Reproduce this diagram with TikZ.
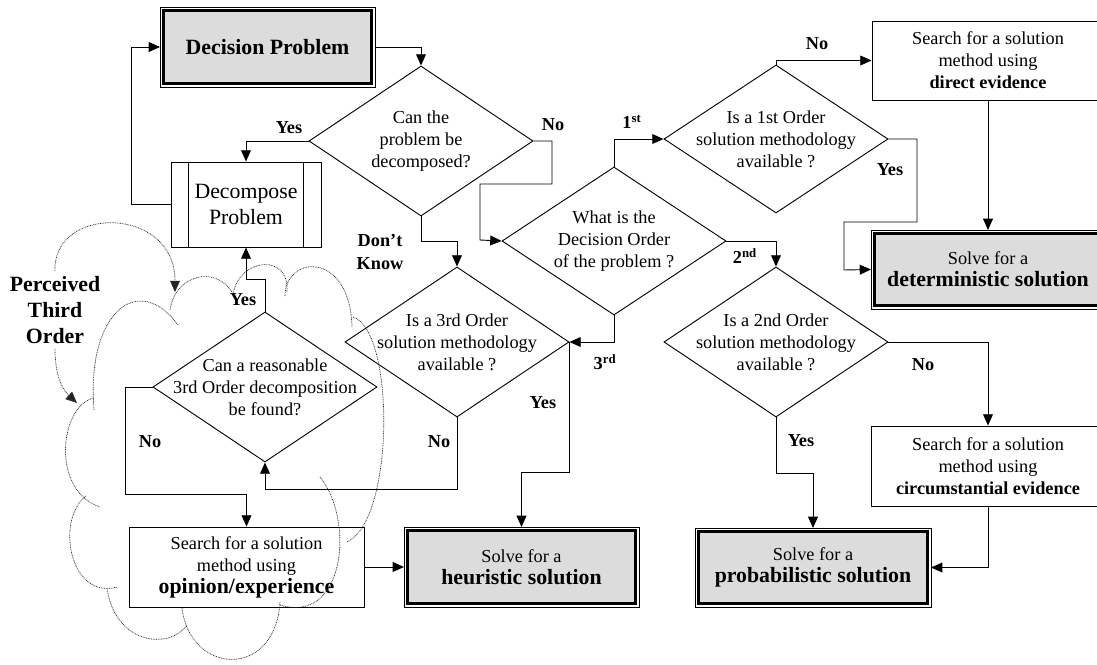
\documentclass[tikz,border=0pt]{standalone}
\usepackage{fontspec}
\setmainfont{Liberation Serif}
\usetikzlibrary{arrows.meta}
\usetikzlibrary{shapes.geometric}

\definecolor{boxgray}{HTML}{DCDCDC}
\newcommand\txtnorm{\fontsize{13}{15.7}\selectfont}
\newcommand\txtbig{\fontsize{15.5}{18.5}\selectfont}

\begin{document}
\begin{tikzpicture}[>={Triangle[length=8pt,width=7pt]}, x=0.025cm, y=-0.025cm,
    line width=0.65pt,
    goal/.style={draw, line width=2.3pt, fill=boxgray, outer sep=2.5pt,
        inner sep=0pt, align=center, font=\txtnorm},
    task/.style={draw, fill=white, inner sep=0pt, align=center, font=\txtnorm},
    decide/.style={diamond, draw, minimum width=5.6cm, minimum height=3.75cm, inner sep=0pt},
    qtext/.style={align=center, font=\txtnorm},
    lbl/.style={font=\txtnorm\bfseries},
    cloudline/.style={line width=0.5pt, dash pattern=on 0.6pt off 0.6pt, black!85}]
    \clip (0,0) rectangle (1097,664);

    % start and end states
    \node[goal, minimum width=5.2cm, minimum height=1.825cm, font=\txtbig\bfseries]
        (dp) at (267.5,47) {Decision Problem};
    \node[goal, minimum width=5.7cm, minimum height=1.825cm] (heur) at (521.5,567)
        {Solve for a\\{\txtbig\bfseries heuristic solution}};
    \node[goal, minimum width=5.725cm, minimum height=1.8cm] (prob) at (813,567.5)
        {Solve for a\\{\txtbig\bfseries probabilistic solution}};
    \node[goal, minimum width=5.675cm, minimum height=1.8cm] (det) at (988,269.5)
        {Solve for a\\{\txtbig\bfseries deterministic solution}};
    \foreach \g in {dp, heur, prob, det}
        \draw[line width=0.6pt] (\g.north west) rectangle (\g.south east);

    % search boxes
    \node[task, minimum width=5.8cm, minimum height=1.975cm] (direct) at (988,60.5)
        {Search for a solution\\method using\\\textbf{direct evidence}};
    \node[task, minimum width=5.85cm, minimum height=2cm] (circ) at (988,466)
        {Search for a solution\\method using\\\textbf{circumstantial evidence}};
    \node[task, minimum width=5.875cm, minimum height=2cm] (opinion) at (246.5,567)
        {Search for a solution\\method using\\{\txtbig\bfseries opinion/experience}};
    \node[task, minimum width=3.75cm, minimum height=2.125cm, font=\txtbig]
        (decomp) at (246,204.5) {Decompose\\Problem};
    \draw ([xshift=0.44cm]decomp.north west) -- ([xshift=0.44cm]decomp.south west);
    \draw ([xshift=-0.44cm]decomp.north east) -- ([xshift=-0.44cm]decomp.south east);

    % decisions
    \node[decide] (canSplit) at (421,141) {};
    \node[qtext] (canSplitQ) at (canSplit) {Can the\\problem be\\decomposed?};
    \node[decide, minimum height=3.7cm] (order) at (614,241) {};
    \node[qtext] (orderQ) at (order) {What is the\\Decision Order\\of the problem ?};
    \node[decide, minimum height=3.7cm] (first) at (776,139) {};
    \node[qtext] (firstQ) at (first) {Is a 1st Order\\solution methodology\\available ?};
    \node[decide] (second) at (776,342) {};
    \node[qtext] (secondQ) at (second) {Is a 2nd Order\\solution methodology\\available ?};
    \node[decide] (third) at (457,342) {};
    \node[qtext] (thirdQ) at (third) {Is a 3rd Order\\solution methodology\\available ?};
    \node[decide] (reason) at (265,387) {};
    \node[qtext] (reasonQ) at (reason) {Can a reasonable\\3rd Order decomposition\\be found?};

    % connectors
    \draw[->] (dp.east) -| (canSplit.north);
    \draw[->] (canSplit.west) -| (decomp.north);
    \draw[->] (decomp.west) -- ++(-39,0) |- (dp.west);
    \draw[->] (canSplit.east) -| (552,184) -| (480,240) -- (order.west);
    \draw[->] (canSplit.south) -- ++(0,25) -| (third.north);
    \draw[->] (order.north) |- (first.west);
    \draw[->] (first.north) |- (direct.west);
    \draw[->] (direct.south) -- (det.north);
    \draw[->] (first.east) -| (917,222) -| (844,270) -- (det.west);
    \draw[->] (order.east) -| (second.north);
    \draw[->] (second.east) -| (circ.north);
    \draw[->] (circ.south) |- (prob.east);
    \draw[->] (second.south) -- ++(0,56) -| (prob.north);
    \draw[->] (order.south) |- (third.east);
    \draw[->] (third.east) -- ++(0,130) -| (heur.north);
    \draw[->] (third.south) -- ++(0,72) -| (reason.south);
    \draw[->] (reason.north) -- ++(0,-32) -| (decomp.south);
    \draw[->] (reason.west) -| (125,494) -| (opinion.north);
    \draw[->] (opinion.east) -- (heur.west);

    % branch labels
    \node[lbl] (yesSplit) at (289,128) {Yes};
    \node[lbl] (noSplit) at (553,125) {No};
    \node[lbl, align=center] (dontKnow) at (380,252) {Don’t\\Know};
    \node[lbl] (ordFirst) at (632,122) {1\textsuperscript{st}};
    \node[lbl] (ordSecond) at (745,256) {2\textsuperscript{nd}};
    \node[lbl] (ordThird) at (605,362) {3\textsuperscript{rd}};
    \node[lbl] (noFirst) at (817,44) {No};
    \node[lbl] (yesFirst) at (890,170) {Yes};
    \node[lbl] (noSecond) at (923,365) {No};
    \node[lbl] (yesSecond) at (801,441) {Yes};
    \node[lbl] (yesThird) at (543,403) {Yes};
    \node[lbl] (noThird) at (439,442) {No};
    \node[lbl] (yesReason) at (243,300) {Yes};
    \node[lbl] (noReason) at (150,442) {No};
    \node[font=\txtbig\bfseries, align=center] (perc) at (55,310) {Perceived\\Third\\Order};

    % the cloud
    \coordinate (cloudTop) at (175,292);
    \coordinate (cloudLeft) at (77,403);
    \draw[cloudline] (94,410) .. controls (86,310) and (140,272) .. (178,325);
    \draw[cloudline] (170,310) .. controls (175,275) and (215,265) .. (232,292);
    \draw[cloudline] (233,295) .. controls (238,258) and (290,252) .. (287,292);
    \draw[cloudline] (285,296) .. controls (285,255) and (350,250) .. (352,327);
    \draw[cloudline] (353,317) .. controls (395,330) and (395,520) .. (347,542);
    \draw[cloudline] (320,477) .. controls (355,520) and (345,625) .. (280,605);
    \draw[cloudline] (182,608) .. controls (190,675) and (275,680) .. (280,602);
    \draw[cloudline] (107,588) .. controls (115,645) and (170,650) .. (187,625);
    \draw[cloudline] (86,496) .. controls (55,520) and (70,600) .. (117,587);
    \draw[cloudline] (94,398) .. controls (60,405) and (50,490) .. (100,507);
    \draw[cloudline, ->] (perc.north) .. controls (52,205) and (175,205) .. (cloudTop);
    \draw[cloudline, ->] (perc.south) .. controls (55,380) and (65,392) .. (cloudLeft);
\end{tikzpicture}
\end{document}
